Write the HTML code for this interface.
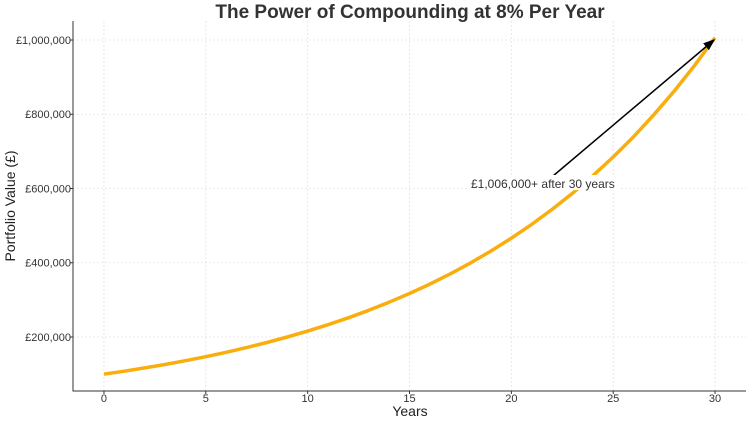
<!DOCTYPE html>
<html><head><meta charset="utf-8"><style>
body{margin:0;background:#fff;}
svg{font-family:"Liberation Sans",sans-serif;}
</style></head><body>
<svg id="chart" width="751" height="421" viewBox="0 0 751 421" xmlns="http://www.w3.org/2000/svg">
<text x="410" y="18" text-anchor="middle" font-size="19" font-weight="bold" fill="#333">The Power of Compounding at 8% Per Year</text>
<g id="grid"></g>
<g id="axes"></g>
<g id="series"></g>
<text x="410" y="416" text-anchor="middle" font-size="14" fill="#222">Years</text>
<text transform="translate(15,206) rotate(-90)" text-anchor="middle" font-size="14" fill="#222">Portfolio Value (£)</text>
<defs><marker id="ah" markerWidth="8" markerHeight="6" refX="7" refY="3" orient="auto"><path d="M0,0 L8,3 L0,6 Z" fill="#000"/></marker></defs>
<line x1="553" y1="176" x2="714" y2="40" stroke="#000" stroke-width="1.5" marker-end="url(#ah)"/>
<rect x="469" y="175" width="150" height="15" fill="#fff"/>
<text x="471" y="188" font-size="12" fill="#333">£1,006,000+ after 30 years</text>
</svg>
<script>
const years=[0,1,2,3,4,5,6,7,8,9,10,11,12,13,14,15,16,17,18,19,20,21,22,23,24,25,26,27,28,29,30];
const values=[100000,108000,116640,125971,136049,146933,158687,171382,185093,199900,215892,233164,251817,271962,293719,317217,342594,370002,399602,431570,466096,503383,543654,587146,634118,684848,739635,798806,862711,931727,1006266];
const xTicks=[0,5,10,15,20,25,30];
const yTicks=[200000,400000,600000,800000,1000000];
const L=73,R=746,T=21,B=391;
const xMin=-1.52,xMax=31.52,yMin=54545,yMax=1051178;
const sx=v=>L+(v-xMin)/(xMax-xMin)*(R-L);
const sy=v=>B-(v-yMin)/(yMax-yMin)*(B-T);
const NS="http://www.w3.org/2000/svg";
function mk(tag,attrs,parent,txt){const e=document.createElementNS(NS,tag);for(const k in attrs)e.setAttribute(k,attrs[k]);if(txt!==undefined)e.textContent=txt;parent.appendChild(e);return e;}
const grid=document.getElementById('grid'),axes=document.getElementById('axes'),series=document.getElementById('series');
xTicks.forEach(t=>{
 const g=mk('line',{x1:sx(t),x2:sx(t),y1:T,y2:B,stroke:'#e2e2e2','stroke-dasharray':'2,2','stroke-width':0.8},grid);
 
 
 const tk=mk('line',{x1:sx(t),x2:sx(t),y1:B,y2:B+3,stroke:'#333'},axes);
 
 
 const l=mk('text',{x:sx(t),y:B+11,'text-anchor':'middle','font-size':11,fill:'#333'},axes,String(t));
 
 
});
yTicks.forEach(t=>{
 const g=mk('line',{x1:L,x2:R,y1:sy(t),y2:sy(t),stroke:'#e2e2e2','stroke-dasharray':'2,2','stroke-width':0.8},grid);
 
 
 const tk=mk('line',{x1:L-3,x2:L,y1:sy(t),y2:sy(t),stroke:'#333'},axes);
 
 
 const l=mk('text',{x:L-2,y:sy(t)+4,'text-anchor':'end','font-size':11,fill:'#333'},axes,'£'+t.toLocaleString('en-GB'));
 
 
});
const ax=mk('path',{d:`M${L},${T} L${L},${B} L${R},${B}`,fill:'none',stroke:'#333','stroke-width':1},axes);


const d=years.map((y,i)=>(i?'L':'M')+sx(y).toFixed(1)+','+sy(values[i]).toFixed(1)).join(' ');
const line=mk('path',{d:d,fill:'none',stroke:'#F9AE0E','stroke-width':3.5,'stroke-linejoin':'round'},series);


</script>
</body></html>
